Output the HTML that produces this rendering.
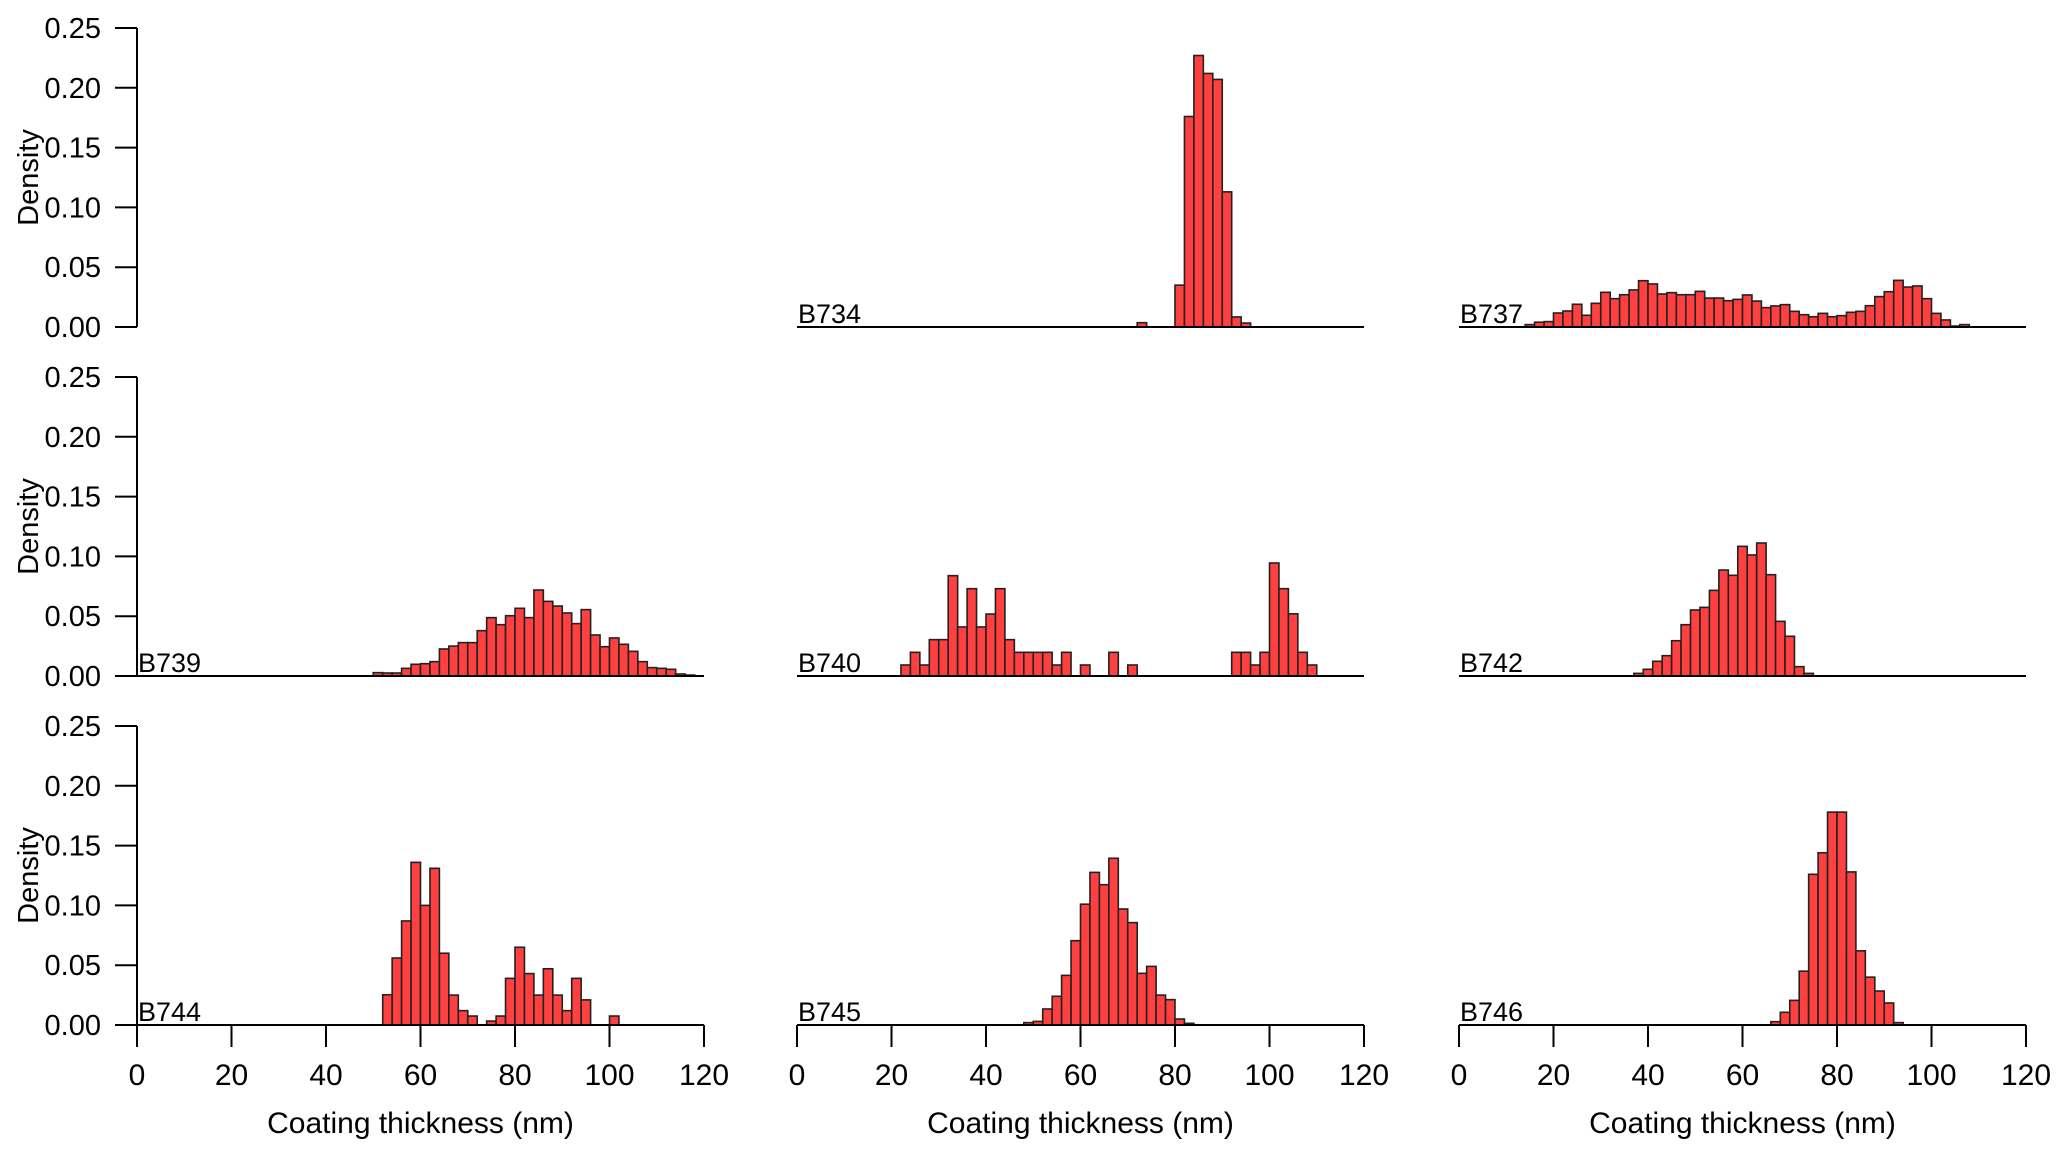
<!DOCTYPE html>
<html><head><meta charset="utf-8"><style>
html,body{margin:0;padding:0;background:#fff;}
svg text{font-family:"Liberation Sans",Arial,sans-serif;fill:#000;}
</style></head><body>
<svg id="chart" width="2067" height="1155" viewBox="0 0 2067 1155" xmlns="http://www.w3.org/2000/svg"></svg>
<script>
const panelNames = ["", "B734", "B737", "B739", "B740", "B742", "B744", "B745", "B746"];
const binWidth = 2;
const binStarts = [0, 72, 14, 50, 22, 37, 52, 48, 66];
const xTicks = [0, 20, 40, 60, 80, 100, 120];
const yTicks = ["0.00", "0.05", "0.10", "0.15", "0.20", "0.25"];
const dens0 = [];
const dens1 = [0.0036,0,0,0,0.035,0.176,0.227,0.212,0.207,0.113,0.0084,0.0033];
const dens2 = [0.002,0.004,0.0045,0.0117,0.0134,0.019,0.0098,0.0198,0.029,0.0237,0.027,0.031,0.0387,0.036,0.0276,0.0287,0.027,0.027,0.0298,0.0242,0.0242,0.022,0.0231,0.0268,0.0217,0.0162,0.0176,0.0187,0.0131,0.0103,0.0086,0.0114,0.0086,0.0095,0.0123,0.0131,0.0178,0.0254,0.0295,0.039,0.0334,0.0343,0.0237,0.0114,0.0059,0.0008,0.002];
const dens3 = [0.0028,0.0025,0.0025,0.0064,0.0098,0.0103,0.012,0.0226,0.025,0.0279,0.0279,0.0379,0.0488,0.0429,0.0504,0.0566,0.0488,0.0719,0.0624,0.0585,0.0527,0.0438,0.0555,0.0343,0.0245,0.0318,0.0265,0.0206,0.012,0.007,0.0064,0.0056,0.0017,0.0008];
const dens4 = [0.0092,0.0198,0.0092,0.0304,0.0304,0.0839,0.041,0.073,0.041,0.0518,0.073,0.0304,0.0198,0.0198,0.0198,0.0198,0.0092,0.0198,0,0.0092,0,0,0.0198,0,0.0092,0,0,0,0,0,0,0,0,0,0,0.0198,0.0198,0.0092,0.0198,0.0945,0.073,0.052,0.0198,0.0092];
const dens5 = [0.0022,0.0056,0.0123,0.017,0.0295,0.0429,0.0552,0.0574,0.0716,0.0886,0.0842,0.1084,0.1012,0.1112,0.0847,0.0457,0.0332,0.0078,0.0022];
const dens6 = [0.0253,0.056,0.087,0.136,0.100,0.131,0.060,0.025,0.012,0.0075,0,0.0033,0.0075,0.039,0.065,0.043,0.025,0.047,0.025,0.012,0.039,0.021,0,0,0.0075];
const dens7 = [0.002,0.003,0.0134,0.024,0.0415,0.0705,0.101,0.1276,0.1173,0.1394,0.097,0.0856,0.0432,0.049,0.025,0.0212,0.005,0.0014];
const dens8 = [0.0028,0.0106,0.0206,0.045,0.126,0.144,0.178,0.178,0.128,0.062,0.040,0.0284,0.0184,0.002];
const allDens = [dens0,dens1,dens2,dens3,dens4,dens5,dens6,dens7,dens8];

const NS = "http://www.w3.org/2000/svg";
const svg = document.getElementById("chart");
const colX = [137, 797, 1459];
const rowBase = [327, 676, 1025];
const plotW = 567, plotH = 299, xMax = 120, yMax = 0.25;
function mk(tag, attrs, parent){const e=document.createElementNS(NS,tag);for(const k in attrs)e.setAttribute(k,attrs[k]);(parent||svg).appendChild(e);return e;}

for (let p = 0; p < 9; p++) {
  const r = Math.floor(p/3), c = p%3;
  const x0 = colX[c], base = rowBase[r];
  const xs = v => x0 + v/xMax*plotW;
  const ys = v => base - v/yMax*plotH;
  const g = mk("g", {});
  
  
  if (c === 0) {
    const ax = mk("line", {x1:x0,y1:ys(0.25),x2:x0,y2:base,stroke:"#000","stroke-width":2}, g);
    
    
    yTicks.forEach(t => {
      const v = parseFloat(t);
      mk("line", {x1:x0-22,y1:ys(v),x2:x0,y2:ys(v),stroke:"#000","stroke-width":2}, g);
      const tx = mk("text", {x:x0-36,y:ys(v)+10,"font-size":29,"text-anchor":"end"}, g);
      tx.textContent = t;
      
      
    });
    const yl = mk("text", {x:0,y:0,"font-size":29,"text-anchor":"middle",transform:`translate(38,${(ys(0.25)+base)/2}) rotate(-90)`}, g);
    yl.textContent = "Density";
    
    
  }
  if (p === 0) continue;
  const d = allDens[p];
  d.forEach((v, i) => {
    if (v <= 0) return;
    const lo = binStarts[p] + i*binWidth;
    const b = mk("rect", {x:xs(lo),y:ys(v),width:xs(lo+binWidth)-xs(lo),height:base-ys(v),fill:"#ff4040",stroke:"#222","stroke-width":1.6}, g);
    
    
  });
  const bl = mk("line", {x1:x0,y1:base,x2:x0+plotW,y2:base,stroke:"#000","stroke-width":2}, g);
  
  
  const lab = mk("text", {x:x0+1,y:base-4,"font-size":27}, g);
  lab.textContent = panelNames[p];
  
  
}
for (let c = 0; c < 3; c++) {
  const x0 = colX[c], base = rowBase[2];
  const xs = v => x0 + v/xMax*plotW;
  const g = mk("g", {});
  
  
  mk("line", {x1:x0,y1:base,x2:x0+plotW,y2:base,stroke:"#000","stroke-width":2}, g);
  xTicks.forEach(t => {
    mk("line", {x1:xs(t),y1:base,x2:xs(t),y2:base+22,stroke:"#000","stroke-width":2}, g);
    const tx = mk("text", {x:xs(t),y:1085,"font-size":30,"text-anchor":"middle"}, g);
    tx.textContent = t;
    
    
  });
  const tt = mk("text", {x:x0+plotW/2,y:1133,"font-size":30,"text-anchor":"middle"}, g);
  tt.textContent = "Coating thickness (nm)";
  
  
}
</script>
</body></html>
